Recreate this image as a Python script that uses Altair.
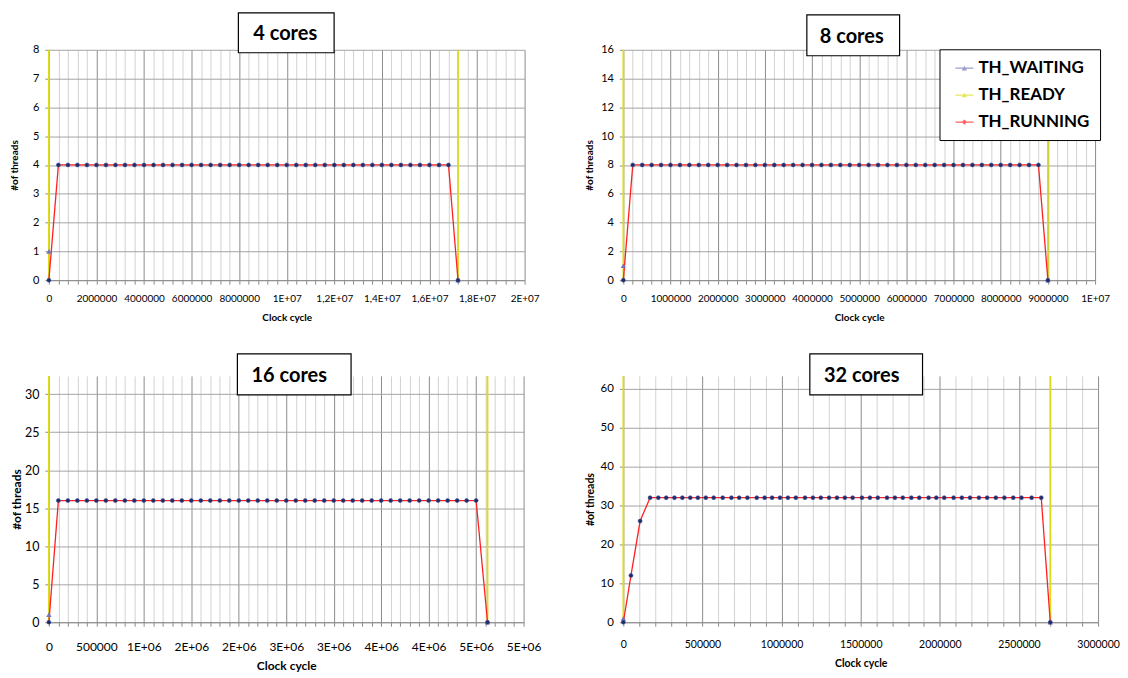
import altair as alt
import pandas as pd
import numpy as np

FONT = "Lato"

# ---------------- data ----------------
series_names = ["TH_WAITING", "TH_READY", "TH_RUNNING"]
panel_titles = ["4 cores", "8 cores", "16 cores", "32 cores"]

# 4 cores
p1_x = [0, 400000, 800000, 1200000, 1600000, 2000000, 2400000, 2800000, 3200000, 3600000,
        4000000, 4400000, 4800000, 5200000, 5600000, 6000000, 6400000, 6800000, 7200000, 7600000,
        8000000, 8400000, 8800000, 9200000, 9600000, 10000000, 10400000, 10800000, 11200000, 11600000,
        12000000, 12400000, 12800000, 13200000, 13600000, 14000000, 14400000, 14800000, 15200000, 15600000,
        16000000, 16400000, 16800000, 17200000]
p1_run = [0, 4, 4, 4, 4, 4, 4, 4, 4, 4,
          4, 4, 4, 4, 4, 4, 4, 4, 4, 4,
          4, 4, 4, 4, 4, 4, 4, 4, 4, 4,
          4, 4, 4, 4, 4, 4, 4, 4, 4, 4,
          4, 4, 4, 0]
p1_wait_x = [0, 17200000]
p1_wait = [1, 0]
p1_ready_x = [0, 17200000]

# 8 cores
p2_x = [0, 200000, 400000, 600000, 800000, 1000000, 1200000, 1400000, 1600000, 1800000,
        2000000, 2200000, 2400000, 2600000, 2800000, 3000000, 3200000, 3400000, 3600000, 3800000,
        4000000, 4200000, 4400000, 4600000, 4800000, 5000000, 5200000, 5400000, 5600000, 5800000,
        6000000, 6200000, 6400000, 6600000, 6800000, 7000000, 7200000, 7400000, 7600000, 7800000,
        8000000, 8200000, 8400000, 8600000, 8800000, 9000000]
p2_run = [0, 8, 8, 8, 8, 8, 8, 8, 8, 8,
          8, 8, 8, 8, 8, 8, 8, 8, 8, 8,
          8, 8, 8, 8, 8, 8, 8, 8, 8, 8,
          8, 8, 8, 8, 8, 8, 8, 8, 8, 8,
          8, 8, 8, 8, 8, 0]
p2_wait_x = [0, 9000000]
p2_wait = [1, 0]
p2_ready_x = [0, 9000000]

# 16 cores
p3_x = [0, 100000, 200000, 300000, 400000, 500000, 600000, 700000, 800000, 900000,
        1000000, 1100000, 1200000, 1300000, 1400000, 1500000, 1600000, 1700000, 1800000, 1900000,
        2000000, 2100000, 2200000, 2300000, 2400000, 2500000, 2600000, 2700000, 2800000, 2900000,
        3000000, 3100000, 3200000, 3300000, 3400000, 3500000, 3600000, 3700000, 3800000, 3900000,
        4000000, 4100000, 4200000, 4300000, 4400000, 4500000, 4620000]
p3_run = [0, 16, 16, 16, 16, 16, 16, 16, 16, 16,
          16, 16, 16, 16, 16, 16, 16, 16, 16, 16,
          16, 16, 16, 16, 16, 16, 16, 16, 16, 16,
          16, 16, 16, 16, 16, 16, 16, 16, 16, 16,
          16, 16, 16, 16, 16, 16, 0]
p3_wait_x = [0, 4620000]
p3_wait = [1, 0]
p3_ready_x = [0, 4620000]

# 32 cores
p4_x = [0, 48000, 106000, 169000, 221000, 271000, 323000, 373000, 423000, 471000,
        521000, 571000, 628000, 683000, 732000, 784000, 843000, 893000, 940000, 990000,
        1040000, 1090000, 1148000, 1198000, 1248000, 1300000, 1350000, 1400000, 1449000, 1508000,
        1558000, 1608000, 1666000, 1716000, 1766000, 1820000, 1870000, 1929000, 1978000, 2028000,
        2087000, 2139000, 2191000, 2247000, 2299000, 2354000, 2408000, 2464000, 2516000, 2580000,
        2641000, 2698000]
p4_run = [0, 12, 26, 32, 32, 32, 32, 32, 32, 32,
          32, 32, 32, 32, 32, 32, 32, 32, 32, 32,
          32, 32, 32, 32, 32, 32, 32, 32, 32, 32,
          32, 32, 32, 32, 32, 32, 32, 32, 32, 32,
          32, 32, 32, 32, 32, 32, 32, 32, 32, 32,
          32, 0]
p4_wait_x = [0, 2698000]
p4_wait = [1, 0]
p4_ready_x = [0, 2698000]

# axis tick labels (as printed by the original spreadsheet)
p1_major = [0, 2000000, 4000000, 6000000, 8000000, 10000000, 12000000, 14000000, 16000000, 18000000, 20000000]
p1_labels = ["0", "2000000", "4000000", "6000000", "8000000", "1E+07", "1,2E+07", "1,4E+07", "1,6E+07", "1,8E+07", "2E+07"]
p2_major = [0, 1000000, 2000000, 3000000, 4000000, 5000000, 6000000, 7000000, 8000000, 9000000, 10000000]
p2_labels = ["0", "1000000", "2000000", "3000000", "4000000", "5000000", "6000000", "7000000", "8000000", "9000000", "1E+07"]
p3_major = [0, 500000, 1000000, 1500000, 2000000, 2500000, 3000000, 3500000, 4000000, 4500000, 5000000]
p3_labels = ["0", "500000", "1E+06", "2E+06", "2E+06", "3E+06", "3E+06", "4E+06", "4E+06", "5E+06", "5E+06"]
p4_major = [0, 500000, 1000000, 1500000, 2000000, 2500000, 3000000]
p4_labels = ["0", "500000", "1000000", "1500000", "2000000", "2500000", "3000000"]

p1_yticks = [0, 1, 2, 3, 4, 5, 6, 7, 8]
p2_yticks = [0, 2, 4, 6, 8, 10, 12, 14, 16]
p3_yticks = [0, 5, 10, 15, 20, 25, 30]
p4_yticks = [0, 10, 20, 30, 40, 50, 60]

# ---------------- styling ----------------
C_WAIT = "#7474b8"
C_READY = "#dcdc1c"
C_RUN = "#ff2020"
C_MARK = "#1f2c66"
GRID_MAJOR = "#8c8c8c"
GRID_MINOR = "#d2d2d2"
GRID_Y = "#a4a4a4"

W1, W2, W3, W4 = 477, 473, 476, 476
H_TOP, H_BOT = 231, 247
COL_GAP, ROW_GAP = 99, 96


def arr_num(vals):
    return "[" + ",".join(str(int(v)) for v in vals) + "]"


def arr_str(vals):
    return "[" + ",".join("'" + s + "'" for s in vals) + "]"


def panel(xs, run, wx, wy, rx, x_domain, minor_step, major, labels, y_domain, y_ticks,
          width, height, title, box, tpos, fs, yfs, tfs, lpad_x, title_y, title_x, legend_x=None):
    minor_vals = [float(v) for v in np.arange(x_domain[0], x_domain[1] + minor_step / 2, minor_step)]
    mv = arr_num(major)
    lab_expr = f"indexof({mv}, datum.value) >= 0 ? {arr_str(labels)}[indexof({mv}, datum.value)] : ''"
    x_axis = alt.Axis(
        values=minor_vals, labelExpr=lab_expr,
        gridColor={"condition": {"test": f"indexof({mv}, datum.value) >= 0", "value": GRID_MAJOR},
                   "value": GRID_MINOR},
        gridWidth=1, tickColor=GRID_MAJOR, tickSize=4, domainColor=GRID_MAJOR,
        labelFont=FONT, labelFontSize=fs, labelColor="black", labelPadding=lpad_x,
        labelOverlap=False, labelFlush=False, labelBound=False,
        title="Clock cycle", titleFont=FONT, titleFontWeight="bold", titleFontSize=tfs,
        titleColor="black", titleY=title_y, titleBaseline="middle")
    y_axis = alt.Axis(
        values=y_ticks, gridColor=GRID_Y, gridWidth=1, tickColor=GRID_MAJOR, tickSize=4,
        domain=False, labelFont=FONT, labelFontSize=yfs, labelColor="black", labelPadding=6,
        labelFlush=False, labelOverlap=False,
        title="#of threads", titleFont=FONT, titleFontWeight="bold", titleFontSize=tfs,
        titleColor="black", titleX=title_x, titleBaseline="middle")
    X = alt.X("x:Q", scale=alt.Scale(domain=x_domain, nice=False, zero=False), axis=x_axis)
    Y = alt.Y("y:Q", scale=alt.Scale(domain=y_domain, nice=False, zero=False), axis=y_axis)

    df_run = pd.DataFrame({"x": xs, "y": run})
    df_wait = pd.DataFrame({"x": wx, "y": wy})
    df_ready = pd.DataFrame({"x": rx})
    df_title = pd.DataFrame({"t": [title]})

    ready = alt.Chart(df_ready).mark_rule(color=C_READY, strokeWidth=1.8).encode(x=X)
    line = alt.Chart(df_run).mark_line(color=C_RUN, strokeWidth=1.3).encode(x=X, y=Y)
    wait = alt.Chart(df_wait).mark_point(shape="triangle-up", filled=True, color=C_WAIT,
                                         size=28, opacity=1).encode(x=X, y=Y)
    pts = alt.Chart(df_run).mark_point(shape="circle", filled=True, color=C_MARK, size=16,
                                       stroke="#3d4f9a", strokeWidth=0.6, opacity=1).encode(x=X, y=Y)
    rect = alt.Chart(df_title).mark_rect(fill="white", stroke="black", strokeWidth=1.2).encode(
        x=alt.value(box[0]), x2=alt.value(box[1]), y=alt.value(box[2]), y2=alt.value(box[3]))
    txt = alt.Chart(df_title).mark_text(font=FONT, fontSize=20, fontWeight="bold", color="black",
                                        align="center", baseline="middle").encode(
        x=alt.value(tpos[0]), y=alt.value(tpos[1]), text="t:N")
    layers = [ready, line, wait, pts, rect, txt]
    if legend_x is not None:
        shapes = [
            "M-1,-0.07H1V0.07H-1Z M-0.3,0.24L0,-0.28L0.3,0.24Z",
            "M-1,-0.07H1V0.07H-1Z M-0.3,0.24L0,-0.28L0.3,0.24Z",
            "M-1,-0.07H1V0.07H-1Z M0,-0.3L0.3,0L0,0.3L-0.3,0Z",
        ]
        leg_props = dict(
            title=None, orient="none", legendX=legend_x, legendY=-0.5,
            strokeColor="black", fillColor="white", padding=10,
            symbolOffset=6, symbolSize=324, symbolStrokeWidth=0,
            labelFont=FONT, labelFontSize=17, labelFontWeight="bold",
            labelColor="black", labelOffset=5, rowPadding=10, labelLimit=300)
        leg_df = pd.DataFrame({"series": series_names})
        leg = alt.Chart(leg_df).mark_point(filled=True).encode(
            color=alt.Color("series:N",
                            scale=alt.Scale(domain=series_names, range=[C_WAIT, C_READY, C_RUN]),
                            legend=alt.Legend(**leg_props)),
            shape=alt.Shape("series:N", scale=alt.Scale(domain=series_names, range=shapes),
                            legend=alt.Legend(**leg_props)),
        ).transform_filter("false")
        layers.append(leg)
    return alt.layer(*layers).properties(width=width, height=height)


c1 = panel(p1_x, p1_run, p1_wait_x, p1_wait, p1_ready_x, [0, 20000000], 400000, p1_major, p1_labels,
           [0, 8], p1_yticks, W1, H_TOP, panel_titles[0], (190, 286, -37, 3), (237, -16),
           10, 11, 10, 9, 37, -34)
c2 = panel(p2_x, p2_run, p2_wait_x, p2_wait, p2_ready_x, [0, 10000000], 200000, p2_major, p2_labels,
           [0, 16], p2_yticks, W2, H_TOP, panel_titles[1], (184, 277, -35, 6), (229, -13),
           10, 11, 10, 9, 37, -34, legend_x=317)
c3 = panel(p3_x, p3_run, p3_wait_x, p3_wait, p3_ready_x, [0, 5000000], 100000, p3_major, p3_labels,
           [0, 32.4], p3_yticks, W3, H_BOT, panel_titles[2], (189, 303, -22, 19), (241, 0),
           12, 12.5, 12, 15, 43, -32)
c4 = panel(p4_x, p4_run, p4_wait_x, p4_wait, p4_ready_x, [0, 3000000], 100000, p4_major, p4_labels,
           [0, 63.3], p4_yticks, W4, H_BOT, panel_titles[3], (187, 300, -22, 19), (239, 0),
           10.5, 11.5, 10.5, 13, 41, -33)

chart = alt.concat(c1, c2, c3, c4, columns=2,
                   spacing={"row": ROW_GAP, "column": COL_GAP}, bounds="flush").properties(
    padding={"left": 2, "top": 3, "right": 0, "bottom": 0},
    background="white",
).configure_view(stroke=None).resolve_scale(color="independent", shape="independent")

chart.save("out.html", embed_options={"renderer": "svg", "actions": False})
